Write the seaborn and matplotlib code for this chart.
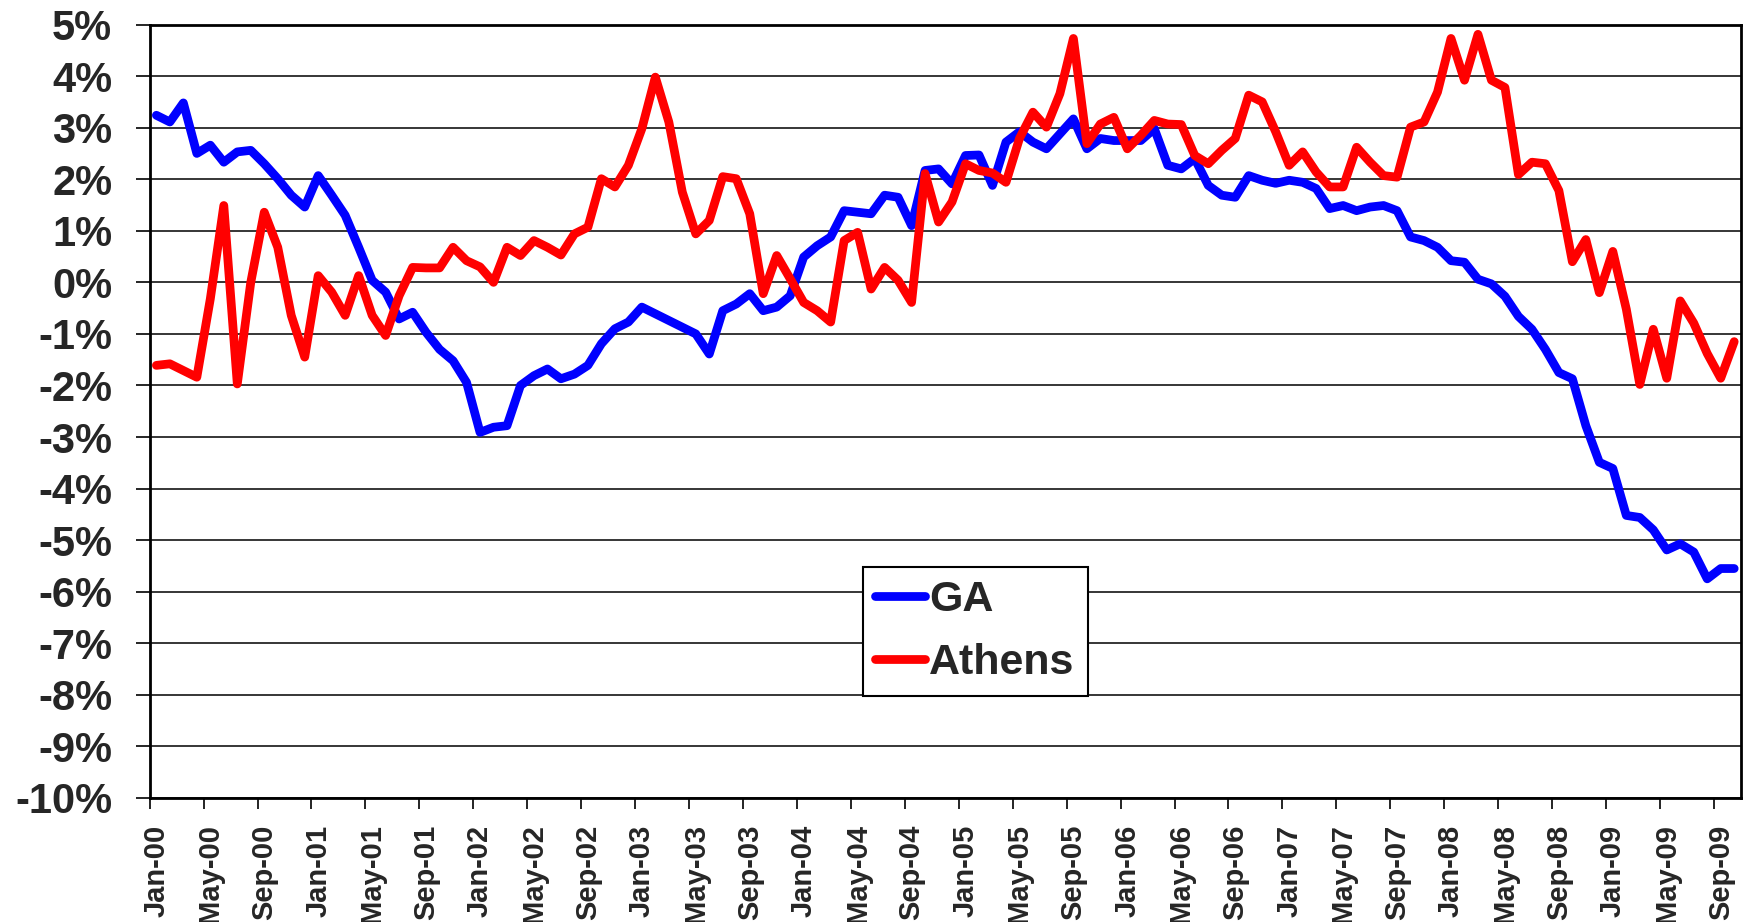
import matplotlib
matplotlib.use("Agg")
import matplotlib.pyplot as plt
import seaborn as sns
import pandas as pd
import numpy as np
from matplotlib.ticker import FixedLocator

# ---------------- data ----------------
ga = [3.24, 3.11, 3.48, 2.50, 2.66, 2.33, 2.53, 2.56, 2.30, 2.01,
      1.69, 1.46, 2.07, 1.69, 1.30, 0.68, 0.04, -0.19, -0.71, -0.58,
      -0.97, -1.30, -1.52, -1.94, -2.91, -2.81, -2.78, -2.00, -1.81, -1.68,
      -1.87, -1.78, -1.61, -1.19, -0.90, -0.77, -0.48, -0.61, -0.74, -0.87,
      -1.00, -1.39, -0.55, -0.42, -0.22, -0.55, -0.48, -0.26, 0.49, 0.71,
      0.88, 1.39, 1.36, 1.33, 1.69, 1.65, 1.10, 2.17, 2.20, 1.91,
      2.46, 2.47, 1.88, 2.72, 2.92, 2.72, 2.59, 2.88, 3.17, 2.59,
      2.79, 2.75, 2.75, 2.75, 2.98, 2.27, 2.20, 2.40, 1.88, 1.69,
      1.65, 2.07, 1.98, 1.92, 1.98, 1.94, 1.82, 1.43, 1.49, 1.39,
      1.46, 1.49, 1.39, 0.88, 0.81, 0.68, 0.42, 0.39, 0.06, -0.03,
      -0.27, -0.66, -0.91, -1.30, -1.75, -1.87, -2.78, -3.49, -3.61, -4.52,
      -4.56, -4.80, -5.19, -5.07, -5.23, -5.75, -5.55, -5.55]

athens = [-1.61, -1.58, -1.71, -1.84, -0.32, 1.49, -1.97, 0.00, 1.36, 0.68,
          -0.64, -1.45, 0.13, -0.19, -0.64, 0.13, -0.64, -1.03, -0.26, 0.29,
          0.28, 0.28, 0.68, 0.42, 0.30, 0.00, 0.68, 0.52, 0.81, 0.68,
          0.53, 0.94, 1.07, 2.01, 1.85, 2.27, 2.98, 3.98, 3.11, 1.75,
          0.94, 1.20, 2.05, 2.01, 1.33, -0.22, 0.52, 0.07, -0.39, -0.55,
          -0.77, 0.81, 0.97, -0.13, 0.29, 0.04, -0.39, 2.11, 1.17, 1.56,
          2.30, 2.17, 2.12, 1.94, 2.79, 3.30, 3.01, 3.66, 4.73, 2.69,
          3.07, 3.20, 2.59, 2.85, 3.14, 3.07, 3.06, 2.46, 2.30, 2.56,
          2.79, 3.63, 3.50, 2.92, 2.27, 2.53, 2.14, 1.85, 1.85, 2.62,
          2.33, 2.07, 2.04, 3.01, 3.11, 3.69, 4.73, 3.92, 4.81, 3.92,
          3.78, 2.09, 2.33, 2.30, 1.78, 0.40, 0.83, -0.20, 0.60, -0.52,
          -1.98, -0.91, -1.86, -0.36, -0.79, -1.38, -1.86, -1.15]

x_labels = ["Jan-00", "May-00", "Sep-00", "Jan-01", "May-01", "Sep-01",
            "Jan-02", "May-02", "Sep-02", "Jan-03", "May-03", "Sep-03",
            "Jan-04", "May-04", "Sep-04", "Jan-05", "May-05", "Sep-05",
            "Jan-06", "May-06", "Sep-06", "Jan-07", "May-07", "Sep-07",
            "Jan-08", "May-08", "Sep-08", "Jan-09", "May-09", "Sep-09"]
y_ticks = [5, 4, 3, 2, 1, 0, -1, -2, -3, -4, -5, -6, -7, -8, -9, -10]
y_labels = ["5%", "4%", "3%", "2%", "1%", "0%", "-1%", "-2%", "-3%", "-4%",
            "-5%", "-6%", "-7%", "-8%", "-9%", "-10%"]
series_names = ["GA", "Athens"]
colors = {"GA": "#0000FF", "Athens": "#FF0000"}

# ---------------- build frame ----------------
n = len(ga)
df = pd.DataFrame({
    "month": list(range(n)) * 2,
    "value": ga + athens,
    "series": ["GA"] * n + ["Athens"] * n,
})

sns.set_style("white")
plt.rcParams["font.family"] = ["Liberation Sans", "DejaVu Sans"]
plt.rcParams["font.weight"] = "bold"

fig = plt.figure(figsize=(17.46, 9.22), dpi=100)
ax = fig.add_axes([0.0857, 0.1345, 0.9114, 0.8389])

sns.lineplot(data=df, x="month", y="value", hue="series",
             hue_order=series_names, palette=colors, ax=ax,
             linewidth=6.3, solid_capstyle="round", solid_joinstyle="round",
             estimator=None, sort=False)

ax.set_xlim(-0.5, n - 0.5)
ax.set_ylim(-10, 5)

# y axis
ax.set_yticks(y_ticks)
ax.set_yticklabels(y_labels, fontsize=30, fontweight="bold")
ax.tick_params(axis="y", direction="out", length=10, width=1.2, pad=17,
               left=True, color="black")
ax.yaxis.grid(True, color="black", linewidth=1.1)
ax.xaxis.grid(False)
ax.set_axisbelow(True)

# x axis: labels centred on months, tick marks at category boundaries
label_pos = list(range(0, n, 4))
ax.xaxis.set_major_locator(FixedLocator(label_pos))
ax.set_xticklabels(x_labels, rotation=90, fontsize=21, fontweight="bold")
ax.tick_params(axis="x", which="major", length=0, pad=19)
ax.xaxis.set_minor_locator(FixedLocator([p - 0.5 for p in label_pos]))
ax.tick_params(axis="x", which="minor", direction="out", length=8,
               width=1.2, bottom=True, color="black")

ax.set_xlabel("")
ax.set_ylabel("")

for s in ax.spines.values():
    s.set_visible(True)
    s.set_color("black")
    s.set_linewidth(2)

handles, labels = ax.get_legend_handles_labels()
leg = ax.legend(handles, labels, loc="upper left",
                bbox_to_anchor=(0.448, 0.299), frameon=True, fancybox=False,
                edgecolor="black", framealpha=1,
                prop={"family": "Liberation Sans", "weight": "bold", "size": 31},
                handlelength=1.15, handletextpad=0.1, borderpad=0.3,
                labelspacing=0.55, borderaxespad=0)
leg.get_frame().set_linewidth(1.5)

fig.savefig("out.png", dpi=100, facecolor="white")
